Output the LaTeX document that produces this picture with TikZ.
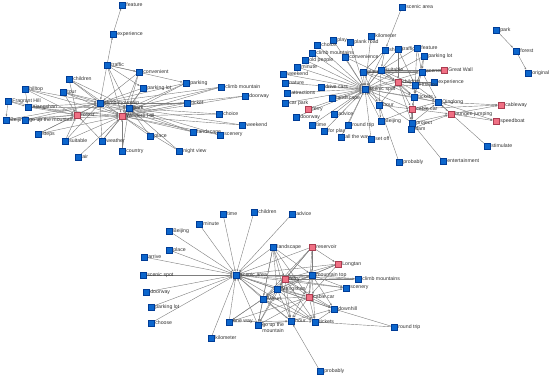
\documentclass[tikz,border=0pt]{standalone}
\usepackage{fontspec}
\setmainfont{Liberation Sans}
\usetikzlibrary{arrows.meta}
\pgfdeclarelayer{bg}
\pgfsetlayers{bg,main}
\definecolor{nblue}{RGB}{12,102,204}
\definecolor{nbluedark}{RGB}{0,60,150}
\definecolor{nred}{RGB}{240,112,132}
\definecolor{nreddark}{RGB}{170,60,80}
\definecolor{egray}{RGB}{125,125,125}
\definecolor{tgray}{RGB}{50,50,50}
\tikzset{
  bnode/.style={rectangle,fill=nblue,draw=nbluedark,line width=0.3pt,minimum size=6pt,inner sep=0pt},
  rnode/.style={rectangle,fill=nred,draw=nreddark,line width=0.3pt,minimum size=6pt,inner sep=0pt},
  lab/.style={font=\fontsize{5.2}{5.8}\selectfont,text=tgray,inner sep=0.6pt,label distance=0.4pt},
  edge/.style={draw=egray,line width=0.4pt,-{Latex[length=2.3pt,width=1.8pt]}},
}
\newcommand\BN[4]{\node[bnode,label={[lab]0:#4}] (#1) at (#2,#3) {};}
\newcommand\RN[4]{\node[rnode,label={[lab]0:#4}] (#1) at (#2,#3) {};}
\begin{document}
\begin{tikzpicture}[x=1pt,y=-1pt]
\useasboundingbox (0,0) rectangle (550,379);
% ---------- Graph 1 ----------
\BN{a1}{122}{5}{feature}
\BN{a2}{113}{34}{experience}
\BN{a3}{107}{65}{traffic}
\BN{a4}{139}{72}{convenient}
\BN{a5}{69}{79}{children}
\BN{a6}{186}{83}{parking}
\BN{a7}{143}{88}{parking lot}
\BN{a8}{25}{89}{hilltop}
\BN{a9}{63}{92}{tour}
\BN{a10}{221}{87}{climb mountain}
\BN{a11}{245}{96}{doorway}
\BN{a12}{8}{101}{Fragrant Hill}
\BN{a13}{100}{103}{climb mountain}
\BN{a14}{187}{103}{ticket}
\BN{a15}{28}{107}{Xiangshan}
\BN{a16}{129}{108}{park}
\RN{a17}{77}{115}{forest}
\RN{a18}{122}{116}{Western Hill}
\BN{a19}{219}{114}{choice}
\BN{a20}{6}{120}{Beijing}
\BN{a21}{25}{120}{go up the mountain}
\BN{a22}{242}{125}{weekend}
\BN{a23}{193}{132}{landscape}
\BN{a24}{38}{134}{steps}
\BN{a25}{65}{141}{suitable}
\BN{a26}{102}{141}{weather}
\BN{a27}{150}{136}{place}
\BN{a28}{220}{135}{scenery}
\BN{a29}{122}{151}{country}
\BN{a30}{179}{151}{night view}
\BN{a31}{78}{157}{air}
% ---------- Graph 2 ----------
\BN{b1}{402}{7}{scenic area}
\BN{b2}{371}{36}{kilometer}
\BN{b3}{333}{40}{play}
\BN{b4}{350}{42}{plank road}
\BN{b5}{317}{45}{choice}
\BN{b6}{385}{50}{shrine}
\BN{b7}{398}{49}{traffic}
\BN{b8}{417}{48}{feature}
\BN{b9}{312}{53}{climb mountains}
\BN{b10}{305}{60}{old people}
\BN{b11}{345}{57}{convenience}
\BN{b12}{424}{56}{parking lot}
\BN{b13}{297}{67}{minute}
\BN{b14}{363}{72}{place}
\BN{b15}{381}{70}{suitable}
\BN{b16}{422}{72}{scenery}
\RN{b17}{444}{70}{Great Wall}
\BN{b18}{283}{74}{weekend}
\RN{b19}{398}{82}{children}
\BN{b20}{434}{82}{experience}
\BN{b21}{285}{83}{nature}
\BN{b22}{321}{87}{drive cars}
\BN{b23}{365}{89}{scenic spot}
\BN{b24}{415}{85}{Huairou}
\BN{b25}{287}{93}{attractions}
\BN{b26}{332}{98}{landscape}
\BN{b27}{414}{97}{tickets}
\BN{b28}{438}{102}{Qinglong}
\BN{b29}{285}{103}{car park}
\RN{b30}{501}{105}{cableway}
\RN{b31}{308}{109}{ferry}
\RN{b32}{412}{109}{cable car}
\BN{b33}{379}{105}{hour}
\BN{b34}{334}{114}{advice}
\RN{b35}{451}{114}{bungee jumping}
\BN{b36}{296}{117}{doorway}
\BN{b37}{381}{121}{Beijing}
\BN{b38}{412}{123}{project}
\RN{b39}{496}{121}{speedboat}
\BN{b40}{348}{125}{round trip}
\BN{b41}{312}{125}{time}
\BN{b42}{411}{129}{dam}
\BN{b43}{324}{131}{for play}
\BN{b44}{341}{137}{all the way}
\BN{b45}{371}{139}{set off}
\BN{b46}{487}{146}{stimulate}
\BN{b47}{399}{162}{probably}
\BN{b48}{443}{161}{entertainment}
\BN{b49}{496}{30}{park}
\BN{b50}{516}{51}{forest}
\BN{b51}{528}{73}{original}
% ---------- Graph 3 ----------
\BN{c1}{223}{214}{time}
\BN{c2}{254}{212}{children}
\BN{c3}{292}{214}{advice}
\BN{c4}{199}{224}{minute}
\BN{c5}{169}{231}{Beijing}
\BN{c6}{169}{250}{place}
\BN{c7}{144}{257}{arrive}
\BN{c8}{273}{247}{landscape}
\RN{c9}{312}{247}{reservoir}
\RN{c10}{338}{264}{Longtan}
\BN{c11}{236}{275}{scenic area}
\BN{c12}{143}{275}{scenic spot}
\RN{c13}{285}{279}{ferry}
\BN{c14}{312}{275}{mountain top}
\BN{c15}{358}{279}{climb mountains}
\BN{c16}{146}{292}{doorway}
\BN{c17}{277}{289}{Mangshan}
\BN{c18}{346}{288}{scenery}
\RN{c19}{309}{297}{cable car}
\BN{c20}{263}{299}{Miyun}
\BN{c21}{151}{307}{parking lot}
\BN{c22}{334}{309}{downhill}
\BN{c23}{151}{323}{choose}
\BN{c24}{229}{322}{one way}
\node[bnode,label={[lab,align=left,anchor=north west,yshift=2.7pt]0:go up the\\mountain}] (c25) at (258,325) {};
\BN{c26}{291}{321}{hour}
\BN{c27}{315}{322}{tickets}
\BN{c28}{394}{327}{round trip}
\BN{c29}{211}{338}{kilometer}
\BN{c30}{320}{371}{probably}
\begin{pgfonlayer}{bg}
% graph 1 edges
\foreach \a/\b in {a2/a1,a3/a2,a3/a13,a3/a18,a3/a16,a3/a4,a3/a7,a3/a6,
  a4/a18,a7/a18,a6/a18,a10/a18,a11/a18,a14/a18,a19/a18,a22/a18,a23/a18,a28/a18,a27/a18,a30/a18,a29/a18,a26/a18,a25/a18,a24/a18,a21/a18,a15/a18,a9/a18,a5/a18,a8/a18,a17/a18,a16/a18,a13/a18,a31/a18,
  a6/a16,a14/a16,a10/a16,a11/a16,a19/a16,a22/a16,a23/a16,a28/a16,a27/a16,a30/a16,a4/a16,a7/a16,a26/a16,a29/a16,a9/a16,a15/a16,a5/a16,a13/a16,a17/a16,
  a5/a13,a9/a13,a8/a13,a17/a13,a15/a13,a21/a13,a20/a13,a26/a13,a25/a13,a24/a13,a7/a13,a4/a13,a14/a13,a6/a13,a10/a13,a23/a13,
  a8/a17,a9/a17,a15/a17,a20/a17,a21/a17,a24/a17,a25/a17,a26/a17,a12/a17,a5/a17,
  a12/a20,a12/a15,a8/a15}
  \draw[edge] (\a) -- (\b);
% graph 2 edges
\foreach \a in {b2,b3,b4,b5,b6,b9,b10,b11,b13,b14,b15,b16,b18,b19,b21,b22,b24,b25,b26,b27,b29,b31,b32,b33,b34,b36,b37,b38,b40,b41,b43,b44,b45,b28,b7,b12}
  \draw[edge] (\a) -- (b23);
\foreach \a/\b in {b1/b6,b6/b15,b6/b14,b7/b19,b7/b24,b8/b24,b8/b16,b8/b15,b12/b27,b12/b16,
  b15/b16,b15/b19,b15/b24,b15/b27,b14/b19,b14/b16,b17/b16,b17/b15,b17/b14,
  b20/b24,b20/b19,b16/b24,b16/b27,b16/b28,b19/b32,b19/b38,b19/b27,b19/b28,b24/b27,b24/b28,
  b27/b32,b27/b38,b27/b28,b32/b38,b32/b28,b32/b35,b38/b35,b38/b28,b42/b32,b42/b35,b48/b38,
  b28/b35,b28/b30,b28/b39,b35/b30,b35/b39,b46/b28,b32/b30,b47/b33,b33/b32,b33/b19,b33/b37,
  b14/b33,b15/b33,b37/b32,b11/b19,b14/b27,b49/b50,b50/b51}
  \draw[edge] (\a) -- (\b);
% graph 3 edges
\foreach \a in {c1,c2,c3,c4,c5,c6,c7,c12,c16,c21,c23,c8,c9,c13,c14,c15,c17,c18,c19,c20,c24,c25,c29,c26,c27,c22,c10}
  \draw[edge] (\a) -- (c11);
\foreach \a/\b in {c8/c13,c8/c14,c8/c17,c8/c19,c8/c20,c8/c26,c8/c25,
  c9/c13,c9/c14,c9/c17,c9/c19,c9/c10,c9/c20,
  c10/c13,c10/c14,c10/c17,c10/c19,
  c13/c14,c13/c17,c13/c19,c13/c20,c13/c26,c13/c25,c13/c27,c13/c22,c13/c18,c13/c15,
  c14/c17,c14/c19,c14/c20,c14/c26,c14/c27,c14/c22,c14/c18,c14/c15,
  c17/c19,c17/c20,c17/c26,c17/c25,c17/c24,c17/c27,c17/c22,
  c19/c20,c19/c26,c19/c27,c19/c22,c19/c18,c19/c25,c19/c24,
  c20/c26,c20/c25,c20/c24,c20/c27,
  c30/c26,c28/c27,c28/c22,c26/c22,c27/c22,c24/c26,c25/c26,c26/c27}
  \draw[edge] (\a) -- (\b);
\end{pgfonlayer}
\end{tikzpicture}
\end{document}
